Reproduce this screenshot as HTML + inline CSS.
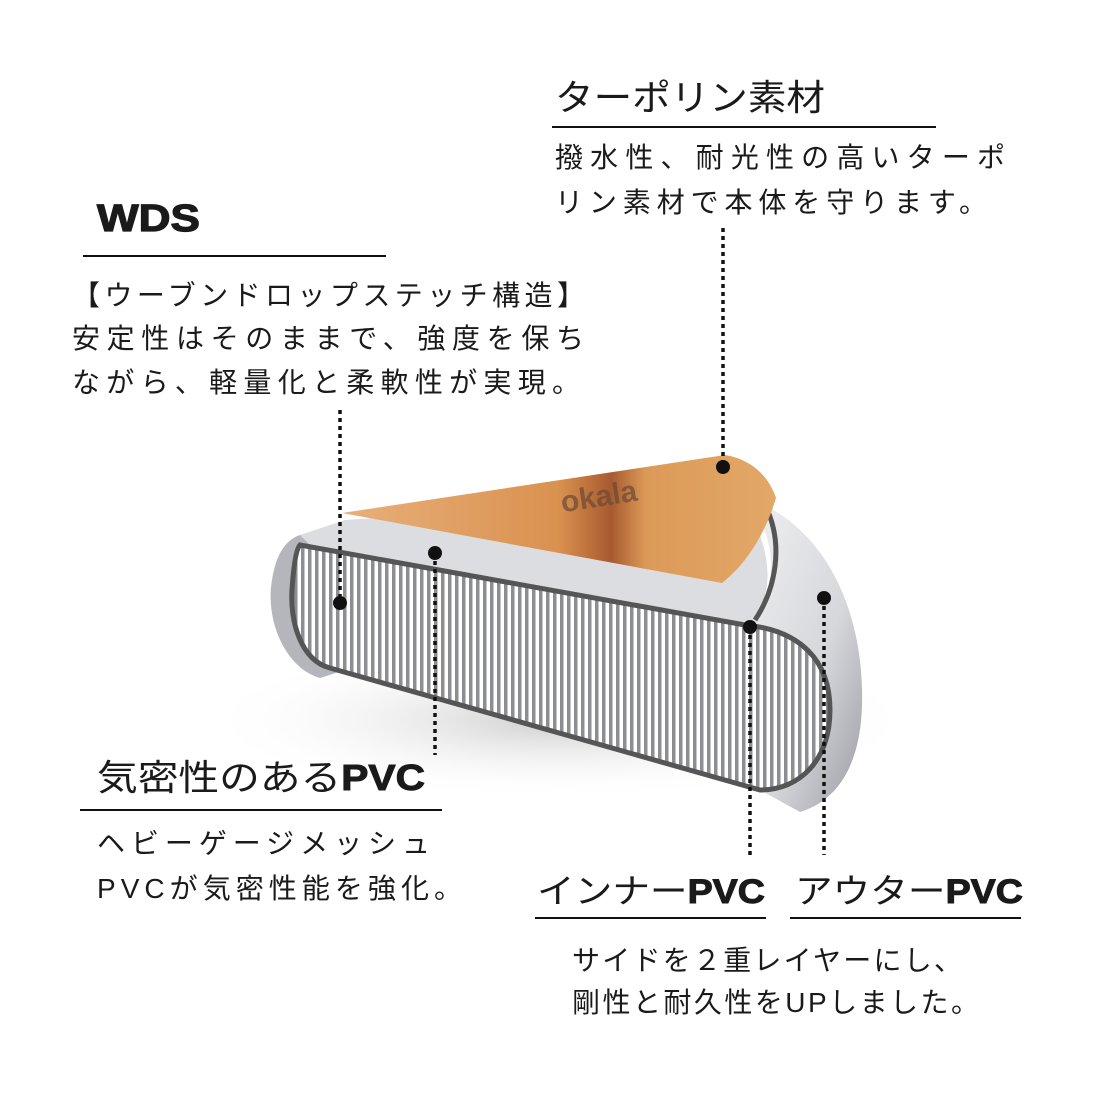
<!DOCTYPE html>
<html><head><meta charset="utf-8"><style>
html,body{margin:0;padding:0;background:#fff;width:1100px;height:1100px;overflow:hidden}
text{font-family:"Liberation Sans","Noto Sans CJK JP",sans-serif;fill:#1a1a1a}
.b{font-weight:bold}
</style></head><body>
<svg width="1100" height="1100" viewBox="0 0 1100 1100" xmlns="http://www.w3.org/2000/svg">
<defs>
<linearGradient id="shell" x1="0" y1="0" x2="1" y2="1">
<stop offset="0" stop-color="#f2f2f4"/><stop offset="0.6" stop-color="#d6d7db"/><stop offset="1" stop-color="#9a9ca2"/></linearGradient>
<linearGradient id="wood" x1="0" y1="0" x2="1" y2="0">
<stop offset="0" stop-color="#e8b07a"/><stop offset="0.5" stop-color="#d9914f"/><stop offset="0.62" stop-color="#a85a30"/><stop offset="0.7" stop-color="#dc9a58"/><stop offset="1" stop-color="#e2a868"/></linearGradient>
<pattern id="ribs" width="7" height="10" patternUnits="userSpaceOnUse">
<rect width="7" height="10" fill="#ffffff"/><rect x="0" width="3.5" height="10" fill="#8c8e94"/></pattern>
<radialGradient id="shadow" cx="0.5" cy="0.5" r="0.5"><stop offset="0" stop-color="#ccc"/><stop offset="1" stop-color="#fff" stop-opacity="0"/></radialGradient>
</defs>
<ellipse cx="560" cy="720" rx="360" ry="80" fill="url(#shadow)"/>
<path d="M740,495 C820,520 860,600 862,690 C864,760 840,800 800,812 L760,790 C820,780 835,720 820,680 C805,640 770,625 750,625 C770,600 780,560 760,520 Z" fill="url(#shell)"/>
<path d="M300,535 L345,528 C300,540 285,600 300,640 C310,660 330,668 345,670 L320,678 C285,668 265,620 272,580 C276,555 285,540 300,535 Z" fill="#b4b6bb"/>
<path d="M300,535 L345,520 L740,495 C780,560 770,600 750,625 L310,545 Z" fill="#dcdde0"/>
<path d="M300,545 L745,625 C800,630 830,660 830,710 C830,760 800,790 760,790 L330,668 C300,660 290,620 292,590 C294,560 297,548 300,545 Z" fill="url(#ribs)" stroke="#555" stroke-width="5"/>
<path d="M755,620 C775,590 785,545 765,505" fill="none" stroke="#555" stroke-width="5"/>
<path d="M342,513 L725,455 C755,460 770,480 776,498 C765,535 745,565 722,583 Z" fill="url(#wood)"/>
<text x="560" y="500" font-size="30" class="b" style="fill:#6a4a35" transform="rotate(-9 640 490)" opacity="0.7">okala</text>
<line x1="552" y1="127" x2="936" y2="127" stroke="#111" stroke-width="2"/>
<line x1="83" y1="256" x2="386" y2="256" stroke="#111" stroke-width="2"/>
<line x1="80" y1="810" x2="442" y2="810" stroke="#111" stroke-width="2"/>
<line x1="535" y1="918" x2="766" y2="918" stroke="#111" stroke-width="2"/>
<line x1="790" y1="918" x2="1021" y2="918" stroke="#111" stroke-width="2"/>
<g stroke="#111" stroke-width="3.5" stroke-dasharray="4,4">
<line x1="723" y1="228" x2="723" y2="467"/>
<line x1="340" y1="410" x2="340" y2="603"/>
<line x1="435" y1="553" x2="435" y2="755"/>
<line x1="750" y1="627" x2="750" y2="855"/>
<line x1="824" y1="598" x2="824" y2="855"/>
</g>
<g fill="#111"><circle cx="723" cy="467" r="7"/><circle cx="340" cy="603" r="7"/><circle cx="435" cy="553" r="7"/><circle cx="750" cy="627" r="7"/><circle cx="824" cy="598" r="7"/></g>
<text x="555" y="110" font-size="36" textLength="270" lengthAdjust="spacingAndGlyphs">ターポリン素材</text>
<text x="555" y="167" font-size="28" textLength="450" lengthAdjust="spacing">撥水性、耐光性の高いターポ</text>
<text x="555" y="212" font-size="28" textLength="432" lengthAdjust="spacing">リン素材で本体を守ります。</text>
<text x="97" y="231" font-size="38" class="b" stroke="#1a1a1a" stroke-width="1.2" textLength="103" lengthAdjust="spacingAndGlyphs">WDS</text>
<text x="72" y="305" font-size="28" textLength="513" lengthAdjust="spacing">【ウーブンドロップステッチ構造】</text>
<text x="72" y="348" font-size="28" textLength="512" lengthAdjust="spacing">安定性はそのままで、強度を保ち</text>
<text x="72" y="392" font-size="28" textLength="508" lengthAdjust="spacing">ながら、軽量化と柔軟性が実現。</text>
<text x="97" y="790" font-size="36" textLength="328" lengthAdjust="spacingAndGlyphs">気密性のある<tspan class="b" stroke="#1a1a1a" stroke-width="1">PVC</tspan></text>
<text x="97" y="853" font-size="28" textLength="333" lengthAdjust="spacing">ヘビーゲージメッシュ</text>
<text x="97" y="898" font-size="28" textLength="365" lengthAdjust="spacing">PVCが気密性能を強化。</text>
<text x="537" y="903" font-size="34" textLength="228" lengthAdjust="spacingAndGlyphs">インナー<tspan class="b" stroke="#1a1a1a" stroke-width="1">PVC</tspan></text>
<text x="795" y="903" font-size="34" textLength="228" lengthAdjust="spacingAndGlyphs">アウター<tspan class="b" stroke="#1a1a1a" stroke-width="1">PVC</tspan></text>
<text x="572" y="970" font-size="28" textLength="390" lengthAdjust="spacing">サイドを２重レイヤーにし、</text>
<text x="572" y="1012" font-size="28" textLength="407" lengthAdjust="spacing">剛性と耐久性をUPしました。</text>
</svg>
</body></html>
